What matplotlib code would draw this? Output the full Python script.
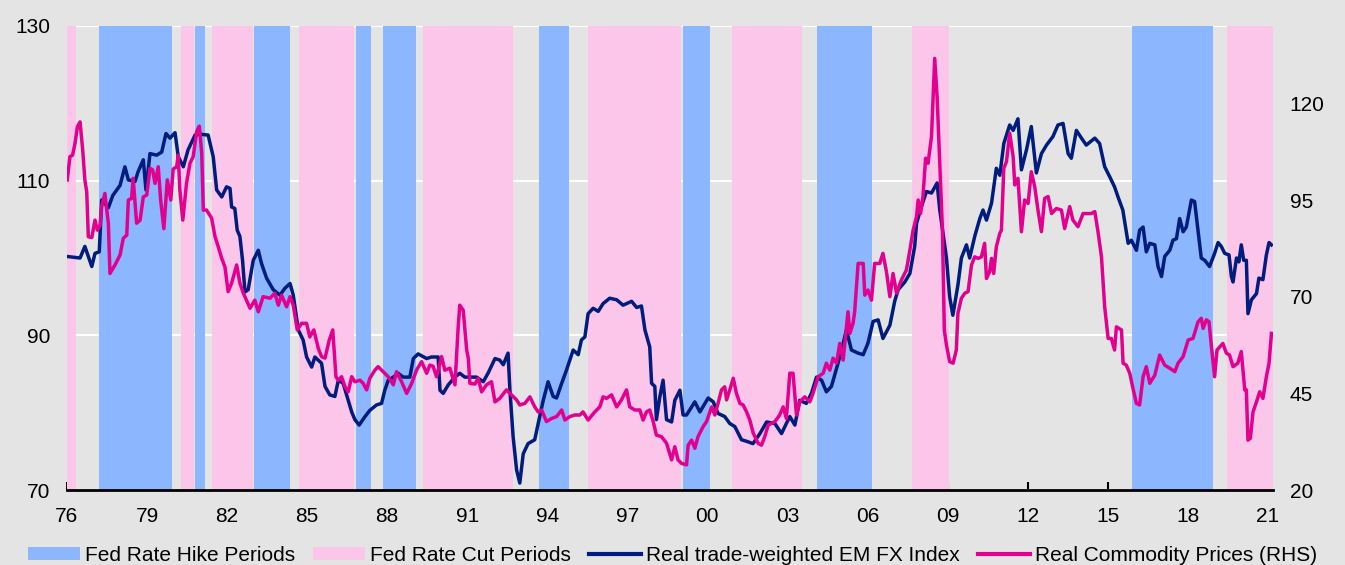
import matplotlib.pyplot as plt
from matplotlib.patches import Patch
from matplotlib.lines import Line2D

# Fed rate hike / cut periods (decimal years)
hike_periods = [(1977.20, 1979.93), (1980.78, 1981.18), (1983.02, 1984.34),
                (1986.85, 1987.41), (1987.85, 1989.09), (1993.68, 1994.83),
                (1999.08, 2000.08), (2004.09, 2006.16), (2015.90, 2018.96)]
cut_periods = [(1976.00, 1976.33), (1980.27, 1980.77), (1981.43, 1982.99),
               (1984.69, 1986.77), (1989.35, 1992.72), (1995.52, 1999.03),
               (2000.92, 2003.56), (2007.66, 2009.07), (2019.47, 2021.20)]

# Real trade-weighted EM FX index (LHS)
em_years = [1976.00, 1976.49, 1976.67, 1976.93, 1977.05, 1977.21, 1977.30, 1977.55, 1977.72, 1977.99,
            1978.17, 1978.30, 1978.55, 1978.67, 1978.86, 1978.96, 1979.11, 1979.36, 1979.55, 1979.71,
            1979.86, 1980.05, 1980.17, 1980.36, 1980.54, 1980.80, 1980.98, 1981.29, 1981.48, 1981.61,
            1981.80, 1981.98, 1982.11, 1982.17, 1982.29, 1982.38, 1982.48, 1982.58, 1982.67, 1982.79,
            1982.98, 1983.17, 1983.29, 1983.48, 1983.73, 1983.98, 1984.17, 1984.36, 1984.48, 1984.67,
            1984.85, 1984.98, 1985.17, 1985.29, 1985.54, 1985.67, 1985.85, 1986.04, 1986.17, 1986.35,
            1986.54, 1986.67, 1986.79, 1986.95, 1987.17, 1987.35, 1987.60, 1987.79, 1987.91, 1988.04,
            1988.23, 1988.41, 1988.60, 1988.85, 1988.98, 1989.16, 1989.48, 1989.66, 1989.91, 1989.98,
            1990.10, 1990.29, 1990.54, 1990.72, 1990.91, 1991.10, 1991.35, 1991.60, 1991.78, 1992.04,
            1992.22, 1992.35, 1992.53, 1992.60, 1992.72, 1992.85, 1992.97, 1993.10, 1993.28, 1993.53,
            1993.66, 1993.85, 1994.03, 1994.22, 1994.35, 1994.54, 1994.72, 1994.97, 1995.16, 1995.28,
            1995.41, 1995.53, 1995.72, 1995.91, 1996.09, 1996.34, 1996.60, 1996.84, 1997.16, 1997.35,
            1997.53, 1997.66, 1997.84, 1997.91, 1998.03, 1998.09, 1998.22, 1998.34, 1998.47, 1998.66,
            1998.78, 1998.97, 1999.09, 1999.22, 1999.53, 1999.72, 1999.84, 2000.03, 2000.22, 2000.40,
            2000.65, 2000.84, 2001.03, 2001.28, 2001.47, 2001.71, 2001.97, 2002.22, 2002.53, 2002.78,
            2002.96, 2003.09, 2003.28, 2003.46, 2003.71, 2003.90, 2004.09, 2004.28, 2004.46, 2004.65,
            2004.84, 2005.03, 2005.21, 2005.40, 2005.65, 2005.84, 2006.02, 2006.21, 2006.40, 2006.58,
            2006.84, 2007.02, 2007.15, 2007.40, 2007.59, 2007.77, 2007.84, 2008.02, 2008.21, 2008.40,
            2008.61, 2008.71, 2008.96, 2009.08, 2009.20, 2009.39, 2009.52, 2009.71, 2009.83, 2010.02,
            2010.21, 2010.33, 2010.46, 2010.65, 2010.83, 2010.96, 2011.11, 2011.33, 2011.46, 2011.64,
            2011.77, 2011.96, 2012.14, 2012.33, 2012.52, 2012.71, 2012.95, 2013.14, 2013.33, 2013.52,
            2013.64, 2013.83, 2014.02, 2014.20, 2014.52, 2014.70, 2014.89, 2015.08, 2015.26, 2015.39,
            2015.57, 2015.77, 2015.89, 2016.08, 2016.20, 2016.33, 2016.45, 2016.58, 2016.77, 2016.89,
            2017.02, 2017.14, 2017.33, 2017.45, 2017.58, 2017.70, 2017.83, 2017.95, 2018.14, 2018.26,
            2018.51, 2018.64, 2018.82, 2019.01, 2019.14, 2019.26, 2019.39, 2019.55, 2019.64, 2019.70,
            2019.83, 2019.92, 2020.01, 2020.10, 2020.20, 2020.26, 2020.39, 2020.58, 2020.67, 2020.82,
            2020.95, 2021.05, 2021.14]
em_fx = [100.2, 100.0, 101.5, 98.9, 100.6, 100.8, 107.5, 106.5, 108.1, 109.4,
         111.8, 110.1, 109.9, 111.2, 112.7, 108.8, 113.5, 113.3, 113.7, 116.1,
         115.5, 116.2, 113.1, 111.8, 114.0, 115.9, 116.0, 115.9, 113.1, 108.8,
         107.9, 109.2, 109.0, 106.6, 106.4, 103.6, 102.8, 99.7, 95.6, 95.9,
         99.7, 101.0, 99.3, 97.4, 95.9, 95.2, 96.1, 96.7, 95.2, 90.7,
         89.4, 87.2, 85.9, 87.2, 86.4, 83.4, 82.3, 82.1, 84.2, 83.8,
         81.6, 80.1, 79.1, 78.4, 79.5, 80.3, 81.0, 81.2, 82.9, 84.2,
         84.6, 85.1, 84.6, 84.6, 87.0, 87.6, 87.0, 87.2, 87.2, 82.9,
         82.5, 83.6, 84.6, 85.1, 84.6, 84.6, 84.6, 84.0, 85.1, 87.0,
         86.8, 86.2, 87.7, 82.9, 76.9, 72.6, 70.9, 74.7, 76.0, 76.5,
         78.6, 81.6, 84.0, 82.1, 81.9, 83.8, 85.5, 88.1, 87.5, 89.4,
         89.8, 92.8, 93.5, 93.1, 94.1, 94.8, 94.6, 93.9, 94.4, 93.6,
         93.8, 90.7, 88.5, 83.8, 83.4, 79.1, 82.1, 84.2, 79.1, 78.8,
         81.6, 82.9, 79.7, 79.7, 81.4, 80.1, 80.8, 81.9, 81.4, 79.9,
         79.5, 78.6, 78.2, 76.5, 76.3, 76.0, 77.3, 78.8, 78.6, 77.3,
         78.6, 79.5, 78.4, 81.6, 81.2, 82.5, 84.6, 84.2, 82.7, 83.4,
         85.7, 88.1, 90.7, 88.1, 87.7, 87.5, 89.0, 91.8, 92.0, 89.6,
         91.3, 94.4, 95.9, 96.9, 98.0, 101.5, 104.5, 106.6, 108.6, 108.4,
         109.7, 106.2, 100.0, 95.0, 92.6, 96.5, 100.0, 101.7, 100.0, 102.8,
         105.1, 106.2, 104.9, 107.1, 111.6, 110.7, 114.8, 117.2, 116.5, 118.0,
         111.4, 114.0, 117.0, 111.0, 113.5, 114.6, 115.7, 117.2, 117.4, 113.5,
         112.9, 116.5, 115.5, 114.6, 115.5, 114.8, 111.8, 110.5, 109.2, 107.9,
         106.2, 101.9, 102.3, 101.0, 103.6, 104.0, 100.8, 101.9, 101.7, 98.9,
         97.6, 100.2, 101.0, 102.3, 102.5, 105.1, 103.4, 104.0, 107.5, 107.3,
         100.0, 99.7, 98.9, 100.6, 102.0, 101.5, 100.6, 100.4, 97.6, 96.9,
         100.0, 99.5, 101.7, 99.7, 99.7, 92.8, 94.6, 95.4, 97.4, 97.2,
         100.4, 102.0, 101.7]

# Real commodity prices (RHS)
cm_years = [1976.01, 1976.11, 1976.21, 1976.30, 1976.39, 1976.49, 1976.59, 1976.67, 1976.74, 1976.80,
            1976.93, 1977.05, 1977.14, 1977.24, 1977.30, 1977.42, 1977.55, 1977.61, 1977.80, 1977.99,
            1978.11, 1978.24, 1978.30, 1978.42, 1978.48, 1978.61, 1978.74, 1978.86, 1978.99, 1979.11,
            1979.21, 1979.30, 1979.42, 1979.51, 1979.63, 1979.76, 1979.89, 1979.98, 1980.11, 1980.17,
            1980.23, 1980.34, 1980.48, 1980.61, 1980.73, 1980.86, 1980.96, 1981.05, 1981.11, 1981.23,
            1981.42, 1981.55, 1981.67, 1981.80, 1981.92, 1982.04, 1982.17, 1982.36, 1982.48, 1982.61,
            1982.86, 1983.04, 1983.17, 1983.35, 1983.61, 1983.79, 1983.92, 1984.04, 1984.23, 1984.36,
            1984.48, 1984.63, 1984.79, 1984.98, 1985.10, 1985.25, 1985.42, 1985.54, 1985.67, 1985.83,
            1985.96, 1986.08, 1986.17, 1986.29, 1986.42, 1986.54, 1986.67, 1986.79, 1986.98, 1987.10,
            1987.23, 1987.35, 1987.54, 1987.66, 1987.85, 1988.04, 1988.23, 1988.35, 1988.54, 1988.73,
            1988.92, 1989.10, 1989.29, 1989.48, 1989.60, 1989.72, 1989.85, 1990.04, 1990.16, 1990.35,
            1990.54, 1990.66, 1990.72, 1990.85, 1990.98, 1991.04, 1991.10, 1991.29, 1991.41, 1991.54,
            1991.72, 1991.91, 1992.04, 1992.22, 1992.47, 1992.66, 1992.85, 1992.97, 1993.16, 1993.35,
            1993.53, 1993.66, 1993.79, 1993.97, 1994.16, 1994.35, 1994.54, 1994.66, 1994.85, 1995.03,
            1995.22, 1995.34, 1995.53, 1995.78, 1995.97, 1996.09, 1996.22, 1996.41, 1996.60, 1996.78,
            1996.97, 1997.09, 1997.28, 1997.47, 1997.59, 1997.72, 1997.84, 1997.97, 1998.09, 1998.28,
            1998.47, 1998.66, 1998.78, 1998.90, 1999.03, 1999.22, 1999.28, 1999.41, 1999.53, 1999.65,
            1999.84, 1999.97, 2000.16, 2000.28, 2000.40, 2000.53, 2000.65, 2000.72, 2000.84, 2000.97,
            2001.09, 2001.22, 2001.34, 2001.47, 2001.59, 2001.72, 2001.90, 2002.03, 2002.15, 2002.28,
            2002.53, 2002.71, 2002.84, 2002.96, 2003.09, 2003.21, 2003.34, 2003.46, 2003.65, 2003.84,
            2003.96, 2004.15, 2004.34, 2004.46, 2004.59, 2004.71, 2004.84, 2004.96, 2005.09, 2005.27,
            2005.34, 2005.46, 2005.52, 2005.65, 2005.84, 2005.90, 2006.02, 2006.15, 2006.27, 2006.46,
            2006.58, 2006.71, 2006.84, 2006.96, 2007.09, 2007.27, 2007.46, 2007.59, 2007.71, 2007.84,
            2007.90, 2007.99, 2008.08, 2008.18, 2008.27, 2008.40, 2008.52, 2008.61, 2008.71, 2008.81,
            2008.88, 2008.96, 2009.08, 2009.21, 2009.33, 2009.39, 2009.52, 2009.65, 2009.77, 2009.90,
            2010.02, 2010.15, 2010.27, 2010.39, 2010.46, 2010.58, 2010.65, 2010.73, 2010.83, 2010.96,
            2011.02, 2011.11, 2011.21, 2011.33, 2011.46, 2011.52, 2011.64, 2011.77, 2011.89, 2012.02,
            2012.14, 2012.27, 2012.39, 2012.52, 2012.64, 2012.77, 2012.90, 2013.08, 2013.27, 2013.39,
            2013.58, 2013.70, 2013.89, 2014.08, 2014.39, 2014.52, 2014.64, 2014.77, 2014.89, 2015.02,
            2015.14, 2015.26, 2015.33, 2015.52, 2015.58, 2015.70, 2015.83, 2015.95, 2016.08, 2016.20,
            2016.33, 2016.45, 2016.58, 2016.77, 2016.95, 2017.14, 2017.33, 2017.52, 2017.64, 2017.83,
            2018.02, 2018.20, 2018.39, 2018.51, 2018.58, 2018.70, 2018.80, 2018.89, 2019.01, 2019.10,
            2019.32, 2019.45, 2019.57, 2019.70, 2019.88, 2020.01, 2020.14, 2020.20, 2020.26, 2020.35,
            2020.45, 2020.58, 2020.70, 2020.82, 2020.95, 2021.05, 2021.14]
commodities = [100.2, 106.2, 106.6, 109.6, 113.9, 115.2, 107.9, 100.2, 97.1, 85.5,
               85.3, 89.8, 87.2, 88.5, 93.3, 96.7, 89.0, 76.0, 78.2, 80.8,
               85.1, 85.9, 95.0, 95.4, 100.6, 89.0, 89.8, 95.8, 96.3, 103.2,
               102.8, 99.3, 103.6, 95.0, 87.6, 100.2, 95.0, 103.0, 103.6, 106.6,
               97.6, 89.8, 99.3, 104.5, 106.2, 112.7, 114.1, 107.1, 92.4, 92.4,
               90.3, 85.5, 82.9, 79.9, 77.7, 71.3, 73.5, 78.2, 73.5, 70.9,
               67.0, 69.1, 66.1, 70.0, 69.6, 70.9, 67.8, 70.4, 67.4, 70.0,
               67.8, 61.4, 63.1, 63.1, 59.6, 61.4, 56.6, 54.5, 54.1, 58.8,
               61.4, 49.3, 48.4, 49.3, 46.7, 45.4, 49.3, 48.0, 48.4, 47.6,
               45.9, 48.9, 51.0, 51.9, 50.6, 49.3, 47.2, 50.6, 48.0, 45.0,
               47.6, 51.0, 53.2, 50.2, 52.3, 52.0, 49.3, 54.5, 51.0, 51.5,
               47.2, 62.0, 67.8, 66.5, 56.2, 54.1, 47.6, 47.4, 48.9, 45.4,
               47.2, 48.0, 42.8, 43.7, 45.9, 44.6, 43.3, 42.0, 42.4, 44.1,
               41.5, 40.2, 40.7, 37.7, 38.5, 39.0, 40.7, 38.1, 39.0, 39.4,
               39.4, 40.2, 38.1, 40.2, 41.5, 44.1, 43.7, 44.6, 41.5, 43.3,
               45.9, 41.5, 40.7, 40.7, 38.1, 40.2, 40.7, 37.7, 34.2, 33.8,
               32.1, 27.8, 31.2, 27.8, 26.9, 26.5, 31.6, 32.9, 30.8, 33.8,
               36.4, 37.7, 41.5, 39.4, 42.4, 45.9, 46.7, 43.3, 45.9, 48.9,
               45.0, 42.4, 42.0, 40.2, 38.1, 34.7, 32.1, 31.6, 33.8, 36.8,
               37.7, 39.4, 41.5, 38.5, 50.2, 50.2, 39.4, 42.8, 44.1, 42.8,
               45.0, 49.3, 50.2, 52.8, 51.0, 54.1, 52.8, 57.9, 53.6, 66.1,
               60.5, 63.1, 66.1, 78.6, 78.6, 70.4, 71.7, 69.1, 78.6, 78.6,
               81.2, 76.5, 70.0, 76.0, 70.9, 74.3, 76.9, 82.1, 87.2, 90.7,
               95.0, 91.5, 95.9, 105.8, 104.5, 111.4, 131.6, 121.7, 104.5, 87.2,
               61.4, 57.5, 53.2, 52.8, 56.2, 65.7, 69.6, 70.9, 71.3, 78.2,
               80.3, 79.9, 80.3, 83.8, 74.7, 76.5, 79.9, 76.0, 82.9, 86.4,
               87.2, 103.2, 104.9, 112.3, 106.2, 98.9, 100.6, 86.8, 95.0, 94.1,
               102.3, 98.4, 92.4, 86.8, 95.4, 95.9, 91.5, 92.8, 92.4, 87.6,
               93.3, 89.8, 88.1, 91.5, 91.5, 92.0, 86.8, 80.3, 67.4, 59.2,
               59.2, 56.2, 62.2, 61.4, 52.8, 52.3, 50.2, 46.3, 42.4, 42.0,
               49.3, 51.9, 47.6, 49.7, 54.9, 52.3, 51.5, 50.6, 52.8, 54.5,
               58.8, 59.2, 63.5, 64.4, 61.8, 64.0, 63.5, 57.1, 49.3, 56.2,
               57.9, 55.4, 54.9, 51.9, 52.8, 55.8, 45.9, 45.9, 32.9, 33.4,
               40.2, 42.8, 45.4, 43.7, 49.3, 52.8, 60.5]

x_ticks = list(range(1976, 2022, 3))
x_labels = ["%02d" % (y % 100) for y in x_ticks]

bg = "#e4e4e4"
blue = "#8cb6fd"
pink = "#fcc5ea"
navy = "#001c7c"
magenta = "#e2008f"

plt.rcParams["font.family"] = ["Liberation Sans", "DejaVu Sans"]
plt.rcParams["font.size"] = 15

fig = plt.figure(figsize=(13.45, 5.65), dpi=100, facecolor=bg)
ax = fig.add_axes([0.0498, 0.1327, 0.8967, 0.8213], facecolor=bg)
ax2 = ax.twinx()

ax.set_axisbelow(True)
ax.grid(axis="y", color="white", linewidth=1.5, zorder=0)
for s, e in hike_periods:
    ax.axvspan(s, e, color=blue, lw=0, zorder=1)
for s, e in cut_periods:
    ax.axvspan(s, e, color=pink, lw=0, zorder=1)

ax.plot(em_years, em_fx, color=navy, lw=2.5, zorder=3)
ax2.plot(cm_years, commodities, color=magenta, lw=2.5, zorder=3)

ax.set_xlim(1976.0, 2021.2)
ax.set_ylim(70, 130)
ax.set_yticks([70, 90, 110, 130])
ax2.set_ylim(20, 140)
ax2.set_yticks([20, 45, 70, 95, 120])

ax.set_xticks(x_ticks)
ax.set_xticklabels(x_labels)
ax.tick_params(axis="x", direction="in", length=6, width=1.5, pad=12, colors="black")
ax.tick_params(axis="y", length=0, pad=12)
ax2.tick_params(axis="y", length=0, pad=12)

for a in (ax, ax2):
    for side in ("top", "left", "right", "bottom"):
        a.spines[side].set_visible(False)
ax.spines["bottom"].set_visible(True)
ax.spines["bottom"].set_linewidth(2)
ax.spines["bottom"].set_zorder(5)

handles = [Patch(facecolor=blue, edgecolor="none"),
           Patch(facecolor=pink, edgecolor="none"),
           Line2D([], [], color=navy, lw=3),
           Line2D([], [], color=magenta, lw=3)]
labels = ["Fed Rate Hike Periods", "Fed Rate Cut Periods",
          "Real trade-weighted EM FX Index", "Real Commodity Prices (RHS)"]
fig.legend(handles, labels, loc="center", bbox_to_anchor=(0.5, 0.017), ncol=4,
           frameon=False, handlelength=2.5, handleheight=0.55, handletextpad=0.25,
           columnspacing=0.85, fontsize=15, borderaxespad=0)

fig.savefig("out.png", dpi=100, facecolor=bg)
